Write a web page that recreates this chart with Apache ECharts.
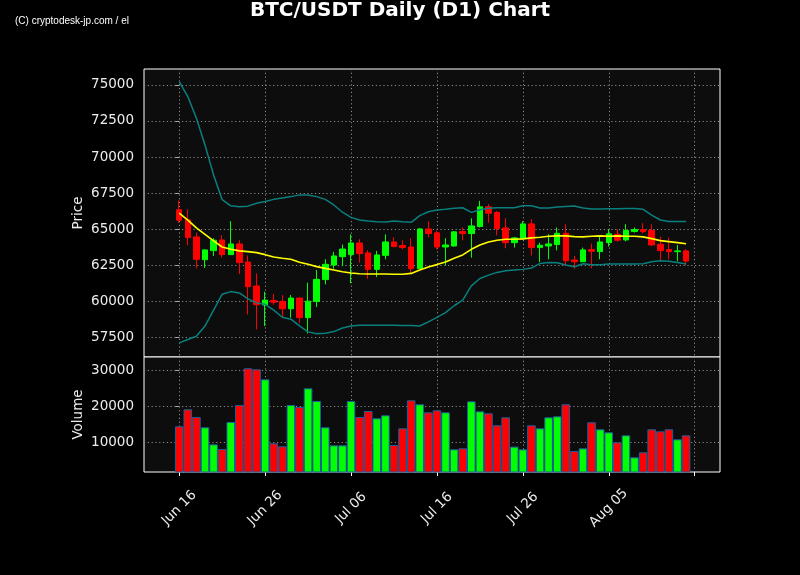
<!DOCTYPE html>
<html><head><meta charset="utf-8">
<script src="https://cdn.jsdelivr.net/npm/echarts@6/dist/echarts.min.js"></script>
<style>html,body{margin:0;padding:0;background:#000;}#c{width:800px;height:575px;}</style>
</head><body><div id="c"></div>
<script>
const dates = ['Jun 16','Jun 17','Jun 18','Jun 19','Jun 20','Jun 21','Jun 22','Jun 23','Jun 24','Jun 25','Jun 26','Jun 27','Jun 28','Jun 29','Jun 30',
'Jul 01','Jul 02','Jul 03','Jul 04','Jul 05','Jul 06','Jul 07','Jul 08','Jul 09','Jul 10','Jul 11','Jul 12','Jul 13','Jul 14','Jul 15','Jul 16','Jul 17','Jul 18','Jul 19','Jul 20','Jul 21','Jul 22','Jul 23','Jul 24','Jul 25','Jul 26','Jul 27','Jul 28','Jul 29','Jul 30','Jul 31',
'Aug 01','Aug 02','Aug 03','Aug 04','Aug 05','Aug 06','Aug 07','Aug 08','Aug 09','Aug 10','Aug 11','Aug 12','Aug 13','Aug 14'];
const opens  = [66350,65650,64470,62890,63520,64260,63240,63980,62730,61070,59750,60070,60000,59490,60230,58880,60000,61510,62520,63100,63240,64050,63360,62220,63190,64120,63870,63770,62270,65020,64750,63770,63840,64840,64700,65190,66550,66160,65090,64070,64350,65370,63730,63840,63940,64720,62870,62750,63590,63450,64070,64650,64260,64840,64980,64910,63960,63590,63450,63500];
const closes = [65630,64420,62920,63570,64240,63240,63980,62690,61020,59770,60090,59950,59490,60230,58880,60020,61530,62570,63150,63630,64050,63310,62220,63220,64120,63800,63730,62270,65020,64700,63770,63910,64820,64700,65230,66550,66110,65050,64070,64400,65370,63730,63890,63980,64720,62820,62750,63570,63470,64120,64680,64240,64910,64980,64840,63910,63520,63450,63500,62800];
const lows   = [65430,63890,62270,62320,63150,63030,63240,61900,59100,58060,58290,59770,58890,58870,58490,57780,59610,61180,62270,62450,61250,62690,61570,61690,62920,63750,63610,61940,62270,64440,63610,62500,63800,64240,63030,65120,65460,64580,63680,63730,64280,63190,62730,62920,63540,62450,62270,62730,62290,62920,63800,64140,64170,64770,64720,63840,62850,62920,62780,62500];
const highs  = [67000,66390,64770,63600,64380,64580,65560,64240,63190,61940,60670,60530,60440,60440,60300,61300,62180,62920,63430,63940,64650,64310,63540,63500,64650,64440,64240,64380,65090,65560,64910,64380,64860,65120,65760,66970,66740,66270,65760,64470,65560,65690,64070,64650,65120,65350,63150,63730,64010,64490,65000,65000,65350,65120,65420,65350,64490,64420,63910,63610];
const volumes = [14440,19170,17040,14170,9440,8150,15650,20370,30560,30280,27500,9720,8890,20370,19810,25000,21480,14170,9170,9170,21480,17040,18700,16670,17500,9260,13890,21670,20560,18330,18890,18330,8060,8330,21390,18610,18060,14720,16940,8800,8060,14720,13890,16940,17220,20560,7590,8330,15560,13610,12780,10000,11940,5830,7220,13610,13050,13610,10830,11940];
const maLine = [66110,65630,65090,64650,64190,63770,63610,63500,63450,63380,63240,63080,62990,62920,62720,62570,62410,62290,62180,62060,61970,61920,61900,61900,61900,61880,61880,61940,62180,62380,62550,62730,62990,63220,63610,63910,64120,64240,64310,64310,64330,64400,64440,64510,64540,64540,64490,64470,64510,64540,64510,64540,64510,64510,64470,64350,64210,64140,64070,64000];
const upperBand = [75230,74190,72690,70840,68760,67050,66620,66560,66600,66800,66920,67070,67170,67260,67380,67370,67260,67070,66680,66180,65820,65640,65570,65520,65500,65570,65520,65480,65940,66210,66330,66380,66450,66490,66170,66350,66450,66490,66490,66490,66630,66630,66470,66470,66540,66580,66610,66470,66400,66400,66420,66420,66430,66430,66380,65980,65640,65540,65540,65540];
const lowerBand = [57130,57360,57590,58290,59390,60500,60680,60590,60180,59900,59800,59400,58900,58770,58300,57890,57760,57790,57910,58160,58290,58350,58350,58350,58350,58350,58340,58340,58300,58580,58890,59230,59700,60090,61080,61590,61820,62010,62120,62170,62220,62310,62630,62700,62680,62520,62400,62610,62540,62540,62590,62590,62590,62590,62610,62750,62820,62790,62700,62590];
const tickDays = [0,10,20,30,40,50,60];
const tickLabels = ['Jun 16','Jun 26','Jul 06','Jul 16','Jul 26','Aug 05',''];
const priceTicks = [57500,60000,62500,65000,67500,70000,72500,75000];
const volumeTicks = [10000,20000,30000];

const UP = '#00ff00', DOWN = '#ff0000';
const idx = dates.map((d,i)=>i);
const candleData = idx.map(i=>[i, opens[i], closes[i], lows[i], highs[i]]);
const volData = idx.map(i=>({value:[i, volumes[i]], itemStyle:{color: closes[i]>=opens[i]?UP:DOWN}}));
const lineOf = arr => idx.map(i=>[i, arr[i]]);

const gridLine = {show:true, lineStyle:{color:'#8a8a8a', width:1, type:[1.2,2.6]}};
const labelStyle = {color:'#ececec', fontSize:13.5, fontFamily:'DejaVu Sans'};
const xBase = {type:'value', min:-4.1, max:62.95, axisLine:{show:false}, splitLine:gridLine};
const plain = v => String(v);

const chart = echarts.init(document.getElementById('c'), null, {renderer:'canvas'});
chart.setOption({
  backgroundColor:'#000',
  animation:false,
  graphic:[
    {type:'text', left:'center', top:1, style:{text:'BTC/USDT Daily (D1) Chart', fill:'#fff', font:'bold 20px "DejaVu Sans"'}},
    {type:'text', left:15, top:16, style:{text:'(C) cryptodesk-jp.com / el', fill:'#fff', font:'10px "Liberation Sans"'}}
  ],
  grid:[
    {left:144, top:69, width:576, height:288, show:true, backgroundColor:'#0d0d0d', borderColor:'#fff', borderWidth:1},
    {left:144, top:357, width:576, height:115, show:true, backgroundColor:'#0d0d0d', borderColor:'#fff', borderWidth:1}
  ],
  xAxis:[
    Object.assign({}, xBase, {gridIndex:0, axisTick:{show:false, customValues:tickDays}, axisLabel:{show:false, customValues:tickDays}}),
    Object.assign({}, xBase, {gridIndex:1,
      axisTick:{show:true, length:4, customValues:tickDays, lineStyle:{color:'#fff'}},
      axisLabel:Object.assign({show:true, customValues:tickDays, rotate:45, align:'center', verticalAlign:'middle', margin:36,
        formatter:v=>{const k=tickDays.indexOf(Math.round(v)); return k>=0?tickLabels[k]:'';}}, labelStyle)})
  ],
  yAxis:[
    {type:'value', gridIndex:0, min:56150, max:76100, name:'Price', nameLocation:'middle', nameGap:59, nameMoveOverlap:false,
      nameTextStyle:labelStyle, axisLine:{show:false},
      axisTick:{show:true, length:4, customValues:priceTicks, lineStyle:{color:'#aaa'}},
      axisLabel:Object.assign({customValues:priceTicks, margin:10, formatter:plain}, labelStyle), splitLine:gridLine},
    {type:'value', gridIndex:1, min:1750, max:33700, name:'Volume', nameLocation:'middle', nameGap:59, nameMoveOverlap:false,
      nameTextStyle:labelStyle, axisLine:{show:false},
      axisTick:{show:true, length:4, customValues:volumeTicks, lineStyle:{color:'#aaa'}},
      axisLabel:Object.assign({customValues:volumeTicks, margin:10, formatter:plain}, labelStyle), splitLine:gridLine}
  ],
  series:[
    {type:'candlestick', xAxisIndex:0, yAxisIndex:0, data:candleData, barWidth:6, z:2,
      itemStyle:{color:UP, color0:DOWN, borderColor:UP, borderColor0:DOWN, borderWidth:1}},
    {type:'line', xAxisIndex:0, yAxisIndex:0, data:lineOf(upperBand), symbol:'none', z:3, lineStyle:{color:'#0a7f7f', width:1.5}},
    {type:'line', xAxisIndex:0, yAxisIndex:0, data:lineOf(lowerBand), symbol:'none', z:3, lineStyle:{color:'#0a7f7f', width:1.5}},
    {type:'line', xAxisIndex:0, yAxisIndex:0, data:lineOf(maLine), symbol:'none', z:4, lineStyle:{color:'#ffff00', width:1.6}},
    {type:'bar', xAxisIndex:1, yAxisIndex:1, data:volData, barWidth:8.6, clip:true, z:2,
      itemStyle:{borderColor:'#1f5e9c', borderWidth:1}}
  ]
});
</script></body></html>
